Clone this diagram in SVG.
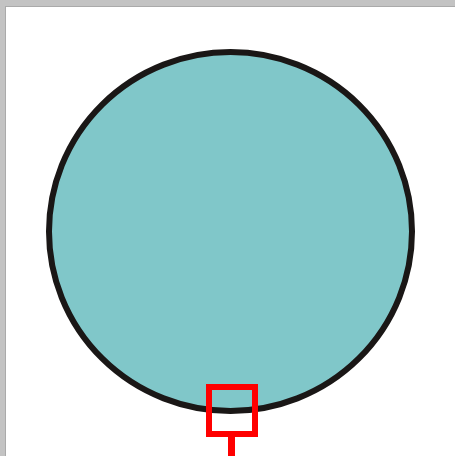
<svg xmlns="http://www.w3.org/2000/svg" width="455" height="456" viewBox="0 0 455 456">
<style>
.frame{fill:#c3c3c3}
.circ{fill:#80c7c9;stroke:#1a1716;stroke-width:6}
.mark{fill:none;stroke:#ff0000;stroke-width:6}
</style>
<rect x="0" y="0" width="455" height="456" fill="#ffffff"/>
<rect class="frame" x="0" y="0" width="455" height="6"/>
<rect class="frame" x="0" y="0" width="6" height="456"/>
<line x1="6" y1="6.5" x2="455" y2="6.5" stroke="#aaaaaa" stroke-width="1"/>
<line x1="5.5" y1="6" x2="5.5" y2="456" stroke="#aaaaaa" stroke-width="1"/>
<g id="circle">
<ellipse class="circ" cx="230.5" cy="231.5" rx="181.5" ry="179.5"/>
</g>
<g id="marker">
<rect class="mark" x="209" y="387" width="46" height="47"/>
<line x1="231.5" y1="434" x2="231.5" y2="456" stroke="#ff0000" stroke-width="7"/>
</g>
</svg>
